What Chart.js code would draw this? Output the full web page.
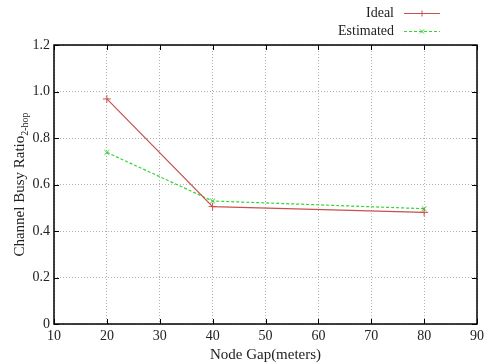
<!DOCTYPE html>
<html>
<head>
<meta charset="utf-8">
<script src="https://cdn.jsdelivr.net/npm/chart.js@4"></script>
<style>
  html, body { margin: 0; padding: 0; background: #fff; }
  #wrap { width: 488px; height: 364px; }
</style>
</head>
<body>
<div id="wrap"><canvas id="chart" width="488" height="364"></canvas></div>
<script>
// node gap (m)
const gaps = [20, 40, 80];
const idealRatio = [0.968, 0.505, 0.480];
const estimatedRatio = [0.738, 0.529, 0.496];
const seriesNames = ['Ideal', 'Estimated'];

const FONT = '"Liberation Serif", "Times New Roman", serif';
const redColor = '#c8504f';
const greenColor = '#33d433';
const textColor = '#222';

// hand drawn titles, legend and the mirrored tick marks (gnuplot look)
const extras = {
  id: 'extras',
  afterDraw(chart) {
    const { ctx, chartArea: a, scales } = chart;
    ctx.save();

    // frame
    ctx.strokeStyle = '#000';
    ctx.lineWidth = 1.5;
    ctx.strokeRect(a.left, a.top, a.right - a.left, a.bottom - a.top);

    // inner tick marks on all four sides
    ctx.lineWidth = 1;
    const t = 5;
    scales.x.ticks.forEach(tk => {
      const px = Math.round(scales.x.getPixelForValue(tk.value)) + 0.5;
      ctx.beginPath();
      ctx.moveTo(px, a.bottom); ctx.lineTo(px, a.bottom - t);
      ctx.moveTo(px, a.top); ctx.lineTo(px, a.top + t);
      ctx.stroke();
    });
    scales.y.ticks.forEach(tk => {
      const py = Math.round(scales.y.getPixelForValue(tk.value)) + 0.5;
      ctx.beginPath();
      ctx.moveTo(a.left, py); ctx.lineTo(a.left + t, py);
      ctx.moveTo(a.right, py); ctx.lineTo(a.right - t, py);
      ctx.stroke();
    });

    // x title
    ctx.fillStyle = textColor;
    ctx.font = '15px ' + FONT;
    ctx.textAlign = 'center';
    ctx.textBaseline = 'alphabetic';
    ctx.fillText('Node Gap(meters)', (a.left + a.right) / 2, 359);

    // y title with subscript
    ctx.translate(19, (a.top + a.bottom) / 2);
    ctx.rotate(-Math.PI / 2);
    const main = 'Channel Busy Ratio';
    const sub = '2-hop';
    ctx.font = '15px ' + FONT;
    const wMain = ctx.measureText(main).width;
    ctx.font = '10px ' + FONT;
    const wSub = ctx.measureText(sub).width;
    const x0 = -(wMain + wSub) / 2;
    ctx.textAlign = 'left';
    ctx.font = '15px ' + FONT;
    ctx.fillText(main, x0, 5);
    ctx.font = '10px ' + FONT;
    ctx.fillText(sub, x0 + wMain, 9);
    ctx.restore();

    // legend
    ctx.save();
    ctx.font = '14px ' + FONT;
    ctx.textAlign = 'right';
    ctx.textBaseline = 'middle';
    const rows = [
      { name: seriesNames[0], color: redColor, dash: [], style: 'cross', y: 13 },
      { name: seriesNames[1], color: greenColor, dash: [3, 2], style: 'crossRot', y: 31 }
    ];
    rows.forEach(r => {
      ctx.fillStyle = textColor;
      ctx.fillText(r.name, 394, r.y);
      ctx.strokeStyle = r.color;
      ctx.lineWidth = 1;
      ctx.setLineDash(r.dash);
      ctx.beginPath();
      ctx.moveTo(404, r.y + 0.5); ctx.lineTo(440, r.y + 0.5);
      ctx.stroke();
      ctx.setLineDash([]);
      Chart.helpers.drawPoint(ctx, { pointStyle: r.style, radius: 3, borderWidth: 1 }, 422, r.y + 0.5);
    });
    ctx.restore();
  }
};

new Chart(document.getElementById('chart').getContext('2d'), {
  type: 'line',
  data: {
    datasets: [
      {
        label: seriesNames[0],
        data: gaps.map((g, i) => ({ x: g, y: idealRatio[i] })),
        borderColor: redColor,
        backgroundColor: redColor,
        borderWidth: 1.2,
        pointStyle: 'cross',
        pointRadius: 4,
        pointBorderWidth: 1,
        tension: 0
      },
      {
        label: seriesNames[1],
        data: gaps.map((g, i) => ({ x: g, y: estimatedRatio[i] })),
        borderColor: greenColor,
        backgroundColor: greenColor,
        borderWidth: 1.2,
        borderDash: [3, 2],
        pointStyle: 'crossRot',
        pointRadius: 3.5,
        pointBorderWidth: 1,
        tension: 0
      }
    ]
  },
  options: {
    responsive: false,
    animation: false,
    layout: { padding: { left: 0, right: 11, top: 45, bottom: 0 } },
    plugins: { legend: { display: false }, tooltip: { enabled: false } },
    scales: {
      x: {
        type: 'linear',
        min: 10, max: 90,
        afterFit(scale) { scale.height = 40; },
        ticks: { stepSize: 10, color: textColor, font: { family: FONT, size: 14 }, padding: 4 },
        grid: { color: '#b0b0b0', lineWidth: 1, drawTicks: false },
        border: { display: false, dash: [1, 2] }
      },
      y: {
        min: 0, max: 1.2,
        afterFit(scale) { scale.width = 54; },
        ticks: {
          stepSize: 0.2, color: textColor, font: { family: FONT, size: 14 }, padding: 4,
          callback: v => (v === 0 ? '0' : v.toFixed(1))
        },
        grid: { color: '#b0b0b0', lineWidth: 1, drawTicks: false },
        border: { display: false, dash: [1, 2] }
      }
    }
  },
  plugins: [extras]
});
</script>
</body>
</html>
